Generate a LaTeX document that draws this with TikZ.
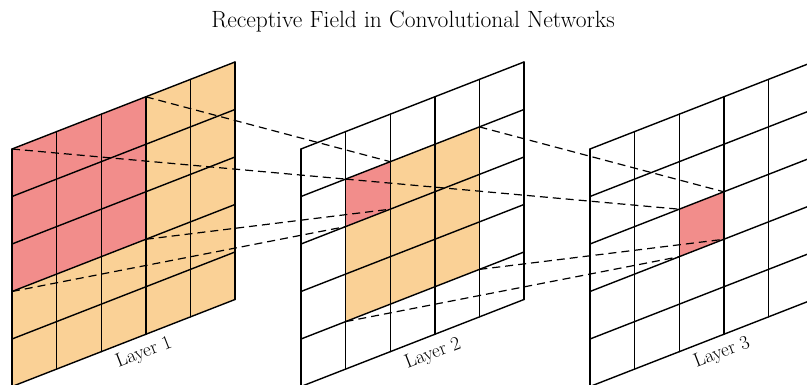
\documentclass[tikz,border=0pt]{standalone}
\usepackage{fontspec}
\setmainfont{Latin Modern Roman}
\usetikzlibrary{calc}
\definecolor{cellred}{RGB}{242,141,139}
\definecolor{cellorange}{RGB}{250,209,150}
\tikzset{
  gridline/.style={line width=1.4pt, line cap=round, line join=round},
  rfline/.style={line width=1.2pt, dash pattern=on 8pt off 5pt},
  layerlabel/.style={font=\fontsize{19.5}{22}\selectfont, rotate=21.3, inner sep=0pt},
  titletext/.style={font=\fontsize{23.5}{27}\selectfont, inner sep=0pt}
}
\begin{document}
\begin{tikzpicture}[x=1pt,y=-1pt]
\useasboundingbox (0,0) rectangle (807,385);
\clip (0,0) rectangle (807,385);
\fill[white] (0,0) rectangle (807,385);
% corner coordinates of the three sheared 5x5 grids
\foreach \k in {0,1,2}{
  \foreach \i in {0,...,5}{
    \foreach \j in {0,...,5}{
      \coordinate (P\k-\i-\j) at ({12+289*\k+44.6*\i},{149-17.4*\i+47.5*\j});
    }
  }
}
% fills
\fill[cellorange] (P0-0-0) -- (P0-5-0) -- (P0-5-5) -- (P0-0-5) -- cycle;
\fill[cellred] (P0-0-0) -- (P0-3-0) -- (P0-3-3) -- (P0-0-3) -- cycle;
\fill[white] (P1-0-0) -- (P1-5-0) -- (P1-5-5) -- (P1-0-5) -- cycle;
\fill[cellorange] (P1-1-1) -- (P1-4-1) -- (P1-4-4) -- (P1-1-4) -- cycle;
\fill[cellred] (P1-1-1) -- (P1-2-1) -- (P1-2-2) -- (P1-1-2) -- cycle;
\fill[white] (P2-0-0) -- (P2-5-0) -- (P2-5-5) -- (P2-0-5) -- cycle;
\fill[cellred] (P2-2-2) -- (P2-3-2) -- (P2-3-3) -- (P2-2-3) -- cycle;
% grid lines
\foreach \k in {0,1,2}{
  \foreach \n in {0,...,5}{
    \draw[gridline] (P\k-\n-0) -- (P\k-\n-5);
    \draw[gridline] (P\k-0-\n) -- (P\k-5-\n);
  }
}
% receptive field connectors: layer 1 -> layer 2
\draw[rfline] (P0-0-0) -- (P1-1-1);
\draw[rfline] (P0-3-0) -- (P1-2-1);
\draw[rfline] (P0-0-3) -- (P1-1-2);
\draw[rfline] (P0-3-3) -- (P1-2-2);
% layer 2 -> layer 3
\draw[rfline] (P1-1-1) -- (P2-2-2);
\draw[rfline] (P1-4-1) -- (P2-3-2);
\draw[rfline] (P1-1-4) -- (P2-2-3);
\draw[rfline] (P1-4-4) -- (P2-3-3);
% labels
\node[layerlabel] (lab1) at (144,353) {Layer 1};
\node[layerlabel] (lab2) at (433,354) {Layer 2};
\node[layerlabel] (lab3) at (722,353) {Layer 3};
\node[titletext] (title) at (413,22) {Receptive Field in Convolutional Networks};
\end{tikzpicture}
\end{document}
